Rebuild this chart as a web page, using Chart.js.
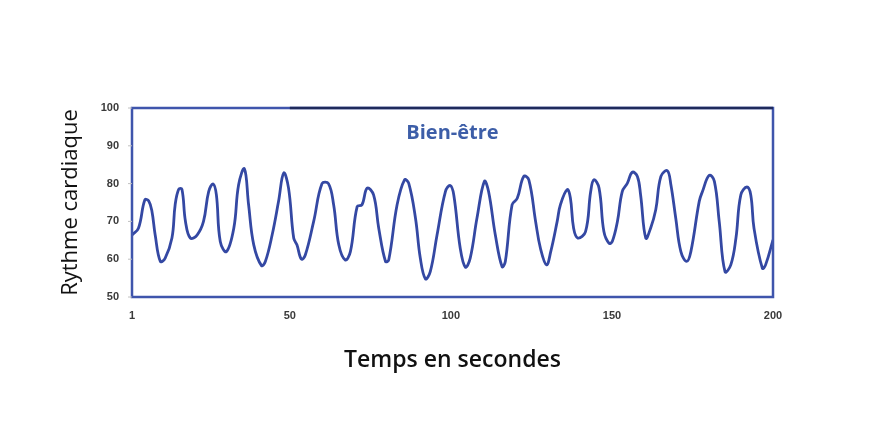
<!DOCTYPE html>
<html>
<head>
<meta charset="utf-8">
<script src="https://cdn.jsdelivr.net/npm/chart.js@4/dist/chart.umd.min.js"></script>
<style>
  html, body { margin: 0; padding: 0; background: #fff; }
  #wrap { width: 889px; height: 439px; }
</style>
</head>
<body>
<div id="wrap"><canvas id="rythme"></canvas></div>
<script>
// temps (s) et rythme cardiaque
var temps = [1, 3, 5, 6.2, 7.2, 8.2, 9.8, 11.3, 13.4, 14.4,
  15.5, 16.5, 17.6, 19.1, 21.2, 23.2, 24.8, 26.2, 27.2, 28.4,
  30.3, 32.6, 34.1, 35.9, 37.2, 38.8, 41.2, 42.4, 44.5, 46.5,
  48.1, 49.6, 51.2, 52.2, 53.6, 54.8, 57.4, 60, 62, 63.6,
  65.2, 67.2, 68.8, 70.9, 72.4, 74, 76, 77.6, 79.7, 80.7,
  83.3, 85.6, 86.9, 89, 90.5, 92.1, 93.6, 95.7, 98.3, 99.8,
  100.9, 102.9, 104.5, 106, 108.1, 110.4, 111.7, 113.8, 115.9, 116.9,
  119, 120.6, 122.6, 124.2, 126.3, 127.8, 129.7, 131, 133, 134,
  136.1, 137.1, 138.1, 139.4, 141.8, 143.4, 144.4, 146, 147.5, 149.1,
  150.1, 151.7, 153.2, 154.8, 156.3, 157.9, 158.9, 160.5, 162, 163.6,
  165.2, 167.2, 168.3, 169.8, 171.4, 173.2, 174.5, 177.1, 178.1, 180.2,
  181.8, 183.3, 185.1, 186.9, 188.5, 190, 191.9, 193.1, 194.1, 196.7,
  197.7, 200];
var rythme = [66.4, 68.2, 75.7, 75.4, 72.6, 66.4, 59.4, 60.3, 65.6, 74.4,
  78.5, 78.5, 70, 65.6, 66.4, 70, 77.9, 79.9, 77, 64.7,
  62, 68.2, 79.7, 83.9, 74.4, 63.8, 58.3, 59.4, 66.4, 75.3,
  82.8, 78.8, 65.6, 63.8, 60, 61.1, 70, 80, 80, 74.4,
  63.8, 59.8, 62, 73.9, 74.4, 78.8, 77, 68.2, 59.4, 59.8,
  74.4, 81, 80.1, 70.9, 60.3, 54.8, 56.7, 66.4, 77.9, 79.5,
  77, 62.9, 57.9, 60.3, 70.9, 80.6, 77.9, 66.4, 58, 59.4,
  74.4, 76.1, 81.9, 81, 70, 62.9, 58.5, 62, 70, 74.4,
  78.4, 76.2, 68.2, 65.6, 67.3, 77.9, 81, 78.8, 67.3, 64.2,
  64.7, 70, 77.9, 80.1, 83, 81.9, 77, 65.6, 68.2, 73.1,
  81.9, 83.4, 79.7, 70.9, 62, 59.4, 62, 75.3, 77.9, 82.2,
  80.6, 70, 56.7, 58.5, 65.6, 77, 79.1, 77, 68.2, 57.6,
  58.5, 65.1];
var ticksX = [1, 50, 100, 150, 200];
var ticksY = [50, 60, 70, 80, 90, 100];

var points = [];
for (var i = 0; i < temps.length; i++) {
  points.push({x: temps[i], y: rythme[i]});
}

// cadre bleu autour de la zone du graphique
var cadre = {
  id: 'cadre',
  afterDatasetsDraw: function (chart) {
    var a = chart.chartArea;
    var ctx = chart.ctx;
    ctx.save();
    ctx.strokeStyle = '#3f55ac';
    ctx.lineWidth = 2.5;
    ctx.strokeRect(a.left, a.top, a.right - a.left, a.bottom - a.top);
    // le haut du cadre est plus sombre à partir de 50
    var x50 = chart.scales.x.getPixelForValue(50);
    ctx.strokeStyle = '#1e2a5c';
    ctx.beginPath();
    ctx.moveTo(x50, a.top);
    ctx.lineTo(a.right, a.top);
    ctx.stroke();
    // petites graduations grises
    ctx.strokeStyle = '#c0c0c0';
    ctx.lineWidth = 1;
    ticksY.forEach(function (v) {
      var y = chart.scales.y.getPixelForValue(v);
      ctx.beginPath();
      ctx.moveTo(a.left - 4, y);
      ctx.lineTo(a.left, y);
      ctx.stroke();
    });
    ctx.restore();
  }
};

new Chart("rythme", {
  type: "line",
  data: {
    datasets: [{
      label: "Rythme cardiaque",
      data: points,
      borderColor: "#3448a3",
      borderWidth: 2.8,
      pointRadius: 0,
      tension: 0.4,
      fill: false
    }]
  },
  options: {
    responsive: true,
    maintainAspectRatio: false,
    animation: false,
    layout: {
      padding: {left: 58, right: 116, top: 108, bottom: 65}
    },
    plugins: {
      legend: { display: false },
      tooltip: { enabled: false },
      title: { display: false }
    },
    scales: {
      x: {
        type: "linear",
        min: 1,
        max: 200,
        grid: { display: false },
        border: { display: false },
        afterBuildTicks: function (scale) {
          scale.ticks = ticksX.map(function (v) { return {value: v}; });
        },
        afterFit: function (scale) { scale.height = 77; },
        ticks: {
          padding: 4,
          maxRotation: 0,
          color: "#3a3a3a",
          font: { family: "Liberation Sans", size: 11, weight: "bold" }
        },
        title: {
          display: true,
          text: "Temps en secondes",
          color: "#111",
          padding: 0,
          font: { family: "Open Sans", size: 23, weight: "600" }
        }
      },
      y: {
        min: 50,
        max: 100,
        grid: { display: false },
        border: { display: false },
        afterBuildTicks: function (scale) {
          scale.ticks = ticksY.map(function (v) { return {value: v}; });
        },
        afterFit: function (scale) { scale.width = 74; },
        ticks: {
          padding: 5,
          color: "#3a3a3a",
          font: { family: "Liberation Sans", size: 11, weight: "bold" }
        },
        title: {
          display: true,
          text: "Rythme cardiaque",
          color: "#111",
          padding: 0,
          font: { family: "Open Sans", size: 22, weight: "500" }
        }
      }
    }
  },
  plugins: [cadre, {
    id: 'titre',
    afterDraw: function (chart) {
      var ctx = chart.ctx;
      var a = chart.chartArea;
      ctx.save();
      ctx.fillStyle = "#3d5ea8";
      ctx.font = "bold 20px 'Open Sans'";
      ctx.textAlign = "center";
      ctx.textBaseline = "middle";
      ctx.fillText("Bien-être", (a.left + a.right) / 2, a.top + 25);
      ctx.restore();
    }
  }]
});
</script>
</body>
</html>
